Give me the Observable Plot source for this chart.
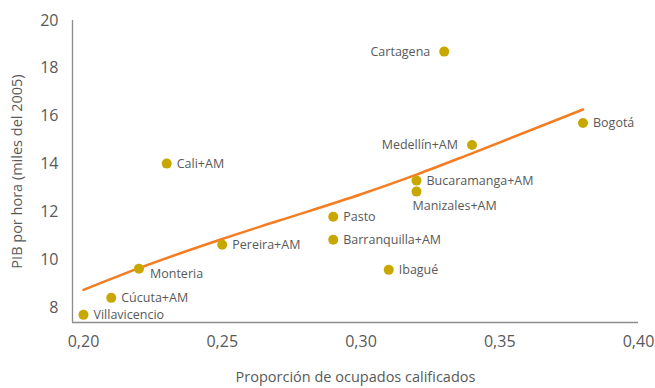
<!DOCTYPE html>
<html>
<head>
<meta charset="utf-8">
<script src="https://cdn.jsdelivr.net/npm/d3@7"></script>
<script src="https://cdn.jsdelivr.net/npm/@observablehq/plot@0.6"></script>
<style>
  html, body { margin: 0; padding: 0; background: #fff; }
  #chart svg { display: block; }
</style>
</head>
<body>
<div id="chart"></div>
<script>
const cities = ["Villavicencio", "Cúcuta+AM", "Monteria", "Cali+AM", "Pereira+AM", "Pasto", "Barranquilla+AM", "Ibagué", "Manizales+AM", "Bucaramanga+AM", "Cartagena", "Medellín+AM", "Bogotá"];
const shareSkilled = [0.20, 0.21, 0.22, 0.23, 0.25, 0.29, 0.29, 0.31, 0.32, 0.32, 0.33, 0.34, 0.38];
const gdpPerHour = [7.70, 8.41, 9.63, 14.02, 10.63, 11.80, 10.84, 9.58, 12.85, 13.31, 18.70, 14.80, 15.72];
const trendX = [0.20, 0.22, 0.25, 0.27, 0.30, 0.32, 0.34, 0.38];
const trendY = [8.74, 9.65, 10.87, 11.62, 12.74, 13.56, 14.45, 16.28];
const xTicks = [0.20, 0.25, 0.30, 0.35, 0.40];
const yTicks = [8, 10, 12, 14, 16, 18, 20];
const labelsLeft = ["Cartagena", "Medellín+AM"];
const labelsBelow = ["Manizales+AM"];
const labelsLower = ["Monteria"];

const points = cities.map((c, i) => ({city: c, x: shareSkilled[i], y: gdpPerHour[i]}));
const trend = trendX.map((x, i) => ({x, y: trendY[i]}));
const isRight = d => !labelsLeft.includes(d.city) && !labelsBelow.includes(d.city) && !labelsLower.includes(d.city);

const xDomain = [0.19604, 0.40];
const yDomain = [7.38, 20];
const textColor = "#595959";
const axisColor = "#8c8c8c";
const fmt = d => d.toFixed(2).replace(".", ",");

const chart = Plot.plot({
  width: 655,
  height: 388,
  marginLeft: 72,
  marginRight: 17,
  marginTop: 20,
  marginBottom: 66,
  style: {fontFamily: "'Open Sans', sans-serif", color: textColor, background: "#fff"},
  x: {domain: xDomain},
  y: {domain: yDomain},
  marks: [
    Plot.ruleX([xDomain[0]], {stroke: axisColor, strokeWidth: 1.3}),
    Plot.ruleY([yDomain[0]], {stroke: axisColor, strokeWidth: 1.3}),
    Plot.axisY(yTicks, {tickSize: 0, tickPadding: 14, fontSize: 16, fill: textColor, label: null}),
    Plot.axisX(xTicks, {tickSize: 0, tickPadding: 13, fontSize: 16, fill: textColor, tickFormat: fmt, label: null}),
    Plot.text(["PIB por hora (miles del 2005)"], {frameAnchor: "left", textAnchor: "middle", dx: -55, rotate: -90, fontSize: 14.5, fill: textColor}),
    Plot.text(["Proporción de ocupados calificados"], {frameAnchor: "bottom", textAnchor: "middle", dy: 59, fontSize: 14.5, fill: textColor}),
    Plot.line(trend, {x: "x", y: "y", stroke: "#f57c20", strokeWidth: 2.5, curve: "monotone-x"}),
    Plot.dot(points, {x: "x", y: "y", r: 5, fill: "#c8a800", stroke: "none"}),
    Plot.text(points.filter(isRight), {x: "x", y: "y", text: "city", textAnchor: "start", dx: 10, fontSize: 12.5, fill: textColor}),
    Plot.text(points.filter(d => labelsLeft.includes(d.city)), {x: "x", y: "y", text: "city", textAnchor: "end", dx: -14, fontSize: 12.5, fill: textColor}),
    Plot.text(points.filter(d => labelsLower.includes(d.city)), {x: "x", y: "y", text: "city", textAnchor: "start", dx: 11, dy: 5, fontSize: 12.5, fill: textColor}),
    Plot.text(points.filter(d => labelsBelow.includes(d.city)), {x: "x", y: "y", text: "city", textAnchor: "start", dx: -4, dy: 14, fontSize: 12.5, fill: textColor})
  ]
});
document.getElementById("chart").appendChild(chart);
</script>
</body>
</html>
